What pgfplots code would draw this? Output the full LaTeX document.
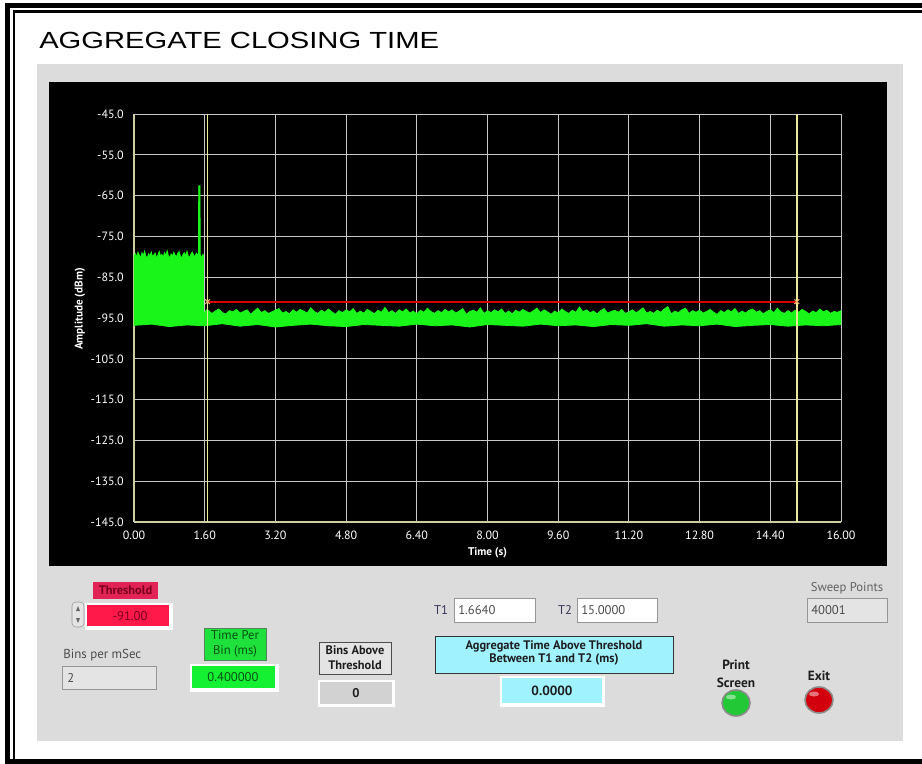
\documentclass[border=0pt]{standalone}
\usepackage{pgfplots}
\pgfplotsset{compat=1.18}
\usepackage{pgfplotstable}
\usepackage{graphicx}
\usepackage{fontspec}
\setmainfont{PT Sans}
\newfontfamily\arialfont{Liberation Sans}
\newcommand{\fs}[2]{\fontsize{#1}{#2}\selectfont}

\definecolor{panel}{RGB}{220,220,220}
\definecolor{trace}{RGB}{25,245,25}
\definecolor{gridc}{RGB}{200,200,200}
\definecolor{axisc}{RGB}{205,205,165}
\definecolor{cursorc}{RGB}{232,232,150}
\definecolor{thrline}{RGB}{225,40,40}
\definecolor{xmark}{RGB}{235,175,105}
\definecolor{thrlab}{RGB}{225,35,85}
\definecolor{thrbox}{RGB}{255,25,75}
\definecolor{thrtext}{RGB}{120,0,25}
\definecolor{grnlab}{RGB}{30,225,60}
\definecolor{grnbox}{RGB}{20,240,50}
\definecolor{grntext}{RGB}{10,80,20}
\definecolor{cyanbox}{RGB}{160,242,255}
\definecolor{labtext}{RGB}{60,50,90}
\definecolor{boxgrey}{RGB}{228,228,228}
\definecolor{boxgrey2}{RGB}{210,210,210}
\definecolor{boxedge}{RGB}{150,150,150}
\definecolor{darktext}{RGB}{30,30,30}

% outline of the green trace band: upper envelope left to right,
% then lower envelope right to left
\pgfplotstableread{
x y
0.00 -79.8
0.03 -79.2
0.06 -80.1
0.09 -78.9
0.12 -79.6
0.15 -80.3
0.18 -79.0
0.21 -79.7
0.24 -78.6
0.27 -79.9
0.30 -80.2
0.33 -79.3
0.36 -79.8
0.39 -78.8
0.42 -80.0
0.45 -79.5
0.48 -79.1
0.51 -80.4
0.54 -79.6
0.57 -78.7
0.60 -79.9
0.63 -79.4
0.66 -80.1
0.69 -79.0
0.72 -79.7
0.75 -78.5
0.78 -79.8
0.81 -80.2
0.84 -79.3
0.87 -79.9
0.90 -78.9
0.93 -79.6
0.96 -80.0
0.99 -79.2
1.02 -78.7
1.05 -79.8
1.08 -80.3
1.11 -79.4
1.14 -79.0
1.17 -79.7
1.20 -78.6
1.23 -79.9
1.26 -80.1
1.29 -79.3
1.32 -78.8
1.35 -79.6
1.38 -80.0
1.41 -79.1
1.44 -79.5
1.460 -79.3
1.464 -62.6
1.494 -62.6
1.498 -79.4
1.51 -79.7
1.53 -80.2
1.56 -79.4
1.572 -79.6
1.574 -93.6
1.60 -93.6
1.64 -93.0
1.68 -93.1
1.76 -93.9
1.84 -93.3
1.92 -92.8
2.00 -93.7
2.08 -94.0
2.16 -93.2
2.24 -93.5
2.32 -92.9
2.40 -93.8
2.48 -93.4
2.56 -93.0
2.64 -94.1
2.72 -93.3
2.80 -92.6
2.88 -93.7
2.96 -93.2
3.04 -93.9
3.12 -93.5
3.20 -93.1
3.28 -92.7
3.36 -93.8
3.44 -93.4
3.52 -94.0
3.60 -93.0
3.68 -93.6
3.76 -92.9
3.84 -93.3
3.92 -93.8
4.00 -92.5
4.08 -93.4
4.16 -93.9
4.24 -93.1
4.32 -93.6
4.40 -92.8
4.48 -93.5
4.56 -94.1
4.64 -93.2
4.72 -93.7
4.80 -93.0
4.88 -93.5
4.96 -92.7
5.04 -93.9
5.12 -93.3
5.20 -93.8
5.28 -92.9
5.36 -93.4
5.44 -94.0
5.52 -93.1
5.60 -93.6
5.68 -92.4
5.76 -93.7
5.84 -93.2
5.92 -93.9
6.00 -93.0
6.08 -93.5
6.16 -92.8
6.24 -93.8
6.32 -93.3
6.40 -94.0
6.48 -93.1
6.56 -93.6
6.64 -92.6
6.72 -93.4
6.80 -93.9
6.88 -93.2
6.96 -93.7
7.04 -92.9
7.12 -93.5
7.20 -93.0
7.28 -93.8
7.36 -93.3
7.44 -92.7
7.52 -94.1
7.60 -93.4
7.68 -93.1
7.76 -93.6
7.84 -92.5
7.92 -93.9
8.00 -93.2
8.08 -93.7
8.16 -93.0
8.24 -93.5
8.32 -92.8
8.40 -93.9
8.48 -93.3
8.56 -94.0
8.64 -93.1
8.72 -93.6
8.80 -92.9
8.88 -93.4
8.96 -93.8
9.04 -93.2
9.12 -92.6
9.20 -93.7
9.28 -93.0
9.36 -93.5
9.44 -94.1
9.52 -93.3
9.60 -93.8
9.68 -92.8
9.76 -93.4
9.84 -93.9
9.92 -93.1
10.00 -93.6
10.08 -92.3
10.16 -93.5
10.24 -93.0
10.32 -93.7
10.40 -93.3
10.48 -94.0
10.56 -93.2
10.64 -92.7
10.72 -93.8
10.80 -93.4
10.88 -93.1
10.96 -93.6
11.04 -92.9
11.12 -93.9
11.20 -93.5
11.28 -93.0
11.36 -93.7
11.44 -93.2
11.52 -92.5
11.60 -93.8
11.68 -93.4
11.76 -93.9
11.84 -93.1
11.92 -93.6
12.00 -92.8
12.08 -92.2
12.16 -94.0
12.24 -93.3
12.32 -93.7
12.40 -93.0
12.48 -92.6
12.56 -93.9
12.64 -93.2
12.72 -93.6
12.80 -93.1
12.88 -93.8
12.96 -93.4
13.04 -92.9
13.12 -93.6
13.20 -94.1
13.28 -93.2
13.36 -93.7
13.44 -93.0
13.52 -93.5
13.60 -92.7
13.68 -93.9
13.76 -93.3
13.84 -93.8
13.92 -93.1
14.00 -92.8
14.08 -93.6
14.16 -93.2
14.24 -94.0
14.32 -93.4
14.40 -93.0
14.48 -93.7
14.56 -92.6
14.64 -93.5
14.72 -93.9
14.80 -93.2
14.88 -93.8
14.96 -93.1
15.04 -93.6
15.12 -92.9
15.20 -93.4
15.28 -94.0
15.36 -93.3
15.44 -93.7
15.52 -92.8
15.60 -93.5
15.68 -93.1
15.76 -93.9
15.84 -93.4
15.92 -93.6
16.00 -93.2
16.0 -96.6
15.6 -96.9
15.2 -96.7
14.8 -97.0
14.4 -96.6
14.0 -96.8
13.6 -97.1
13.2 -96.5
12.8 -96.9
12.4 -96.7
12.0 -97.0
11.6 -96.4
11.2 -96.8
10.8 -96.6
10.4 -97.1
10.0 -96.7
9.6 -96.9
9.2 -96.5
8.8 -97.0
8.4 -96.8
8.0 -96.6
7.6 -97.2
7.2 -96.7
6.8 -96.9
6.4 -96.5
6.0 -97.0
5.6 -96.8
5.2 -96.6
4.8 -97.1
4.4 -96.9
4.0 -96.5
3.6 -96.8
3.2 -97.2
2.8 -96.6
2.4 -97.0
2.0 -96.4
1.6 -96.9
1.2 -96.7
0.8 -97.1
0.4 -96.5
0.0 -96.8
}\banddata

% threshold line between the cursors T1 and T2
\pgfplotstableread{
x y
1.664 -91
15.0 -91
}\thrdata

\begin{document}
\begin{tikzpicture}
\begin{scope}[x=0.75pt,y=-0.75pt]
  % page, frame, panels
  \fill[white] (0,0) rectangle (922,764);
  \fill[black] (5,3) rectangle (922,8);
  \fill[black] (5,3) rectangle (10,764);
  \fill[black] (13,10) rectangle (922,13);
  \fill[black] (13,10) rectangle (15,759);
  \fill[black] (5,759) rectangle (922,764);
  \fill[panel] (37,64) rectangle (903,741);
  \fill[black] (49,82) rectangle (887,566);
  % title
  \node[anchor=base west, inner sep=0pt, font=\arialfont\fs{17.5}{20}] at (39,48) {\scalebox{1.25}[1]{AGGREGATE CLOSING TIME}};

  % Threshold
  \fill[thrlab] (93,582) rectangle (158,599);
  \node[text=thrtext, font=\bfseries\fs{9.3}{11}] at (125.5,590.5) {Threshold};
  \fill[white] (85,603) rectangle (173,630);
  \fill[thrbox] (87,605) rectangle (169,626);
  \node[text=thrtext, font=\fs{9.5}{11}] at (130,616) {-91.00};
  \filldraw[fill=boxgrey, draw=boxedge, rounded corners=3pt] (72,602) rectangle (84,627);
  \fill[black!60] (76,611) -- (80,611) -- (78,606) -- cycle;
  \fill[black!60] (76,618) -- (80,618) -- (78,623) -- cycle;

  % Bins per mSec
  \node[anchor=west, inner sep=0pt, text=darktext!80, font=\fs{9.7}{11}] at (63,655) {Bins per mSec};
  \filldraw[fill=boxgrey, draw=boxedge] (62,666) rectangle (156,689);
  \node[anchor=west, inner sep=0pt, text=darktext!80, font=\fs{9.5}{11}] at (67,678) {2};

  % Time Per Bin
  \filldraw[fill=grnlab, draw=grntext!70] (204,628) rectangle (266,660);
  \node[align=center, text=grntext, font=\fs{9.5}{11}] at (235,644) {Time Per\\Bin (ms)};
  \fill[white] (190,664) rectangle (279,692);
  \fill[grnbox] (192,666) rectangle (275,688);
  \node[text=grntext, font=\fs{9.5}{11}] at (233,677) {0.400000};

  % Bins Above Threshold
  \filldraw[fill=boxgrey, draw=black!70] (319,642) rectangle (391,674);
  \node[align=center, text=darktext, font=\bfseries\fs{9.3}{11}] at (355,658) {Bins Above\\Threshold};
  \fill[white] (318,680) rectangle (395,707);
  \fill[boxgrey2] (320,682) rectangle (392,704);
  \node[text=darktext, font=\bfseries\fs{9.5}{11}] at (356,693) {0};

  % T1, T2
  \node[text=labtext, font=\fs{9.5}{11}] at (441,610) {T1};
  \filldraw[fill=white, draw=boxedge] (454,598) rectangle (535,622);
  \node[anchor=west, inner sep=0pt, text=darktext!80, font=\fs{9.5}{11}] at (458,610) {1.6640};
  \node[text=labtext, font=\fs{9.5}{11}] at (565,610) {T2};
  \filldraw[fill=white, draw=boxedge] (577,598) rectangle (657,622);
  \node[anchor=west, inner sep=0pt, text=darktext!80, font=\fs{9.5}{11}] at (581,610) {15.0000};

  % Sweep Points
  \node[text=darktext!70, font=\fs{9.5}{11}] at (847,588) {Sweep Points};
  \filldraw[fill=boxgrey, draw=boxedge] (807,598) rectangle (887,622);
  \node[anchor=west, inner sep=0pt, text=darktext!80, font=\fs{9.5}{11}] at (811,610) {40001};

  % Aggregate time
  \filldraw[fill=cyanbox, draw=black!80] (435,636) rectangle (673,673);
  \node[align=center, text=darktext, font=\bfseries\fs{9.3}{10}] at (554,653) {Aggregate Time Above Threshold\\Between T1 and T2 (ms)};
  \fill[white] (500,676) rectangle (605,707);
  \fill[cyanbox] (502,678) rectangle (602,703);
  \node[text=darktext, font=\bfseries\fs{10}{11}] at (552,691) {0.0000};

  % Print Screen / Exit
  \node[align=center, text=darktext, font=\bfseries\fs{10}{13.5}] at (736,674) {Print\\Screen};
  \filldraw[fill={rgb,255:red,35;green,200;blue,55}, draw=black!45, line width=1.2pt] (736,703) ellipse [x radius=14, y radius=13];
  \fill[white, opacity=0.45] (731,697) ellipse [x radius=5, y radius=2.5];
  \node[text=darktext, font=\bfseries\fs{10}{11}] at (819,676) {Exit};
  \filldraw[fill={rgb,255:red,210;green,0;blue,12}, draw=black!45, line width=1.2pt] (819,700) ellipse [x radius=14, y radius=13];
  \fill[white, opacity=0.45] (814,694) ellipse [x radius=5, y radius=2.5];
\end{scope}

\begin{axis}[
  at={(100.5pt,-85.5pt)}, anchor=north west,
  width=530.25pt, height=306pt, scale only axis,
  xmin=0, xmax=16, ymin=-145, ymax=-45,
  xtick={0,1.6,3.2,4.8,6.4,8,9.6,11.2,12.8,14.4,16},
  xticklabels={0.00,1.60,3.20,4.80,6.40,8.00,9.60,11.20,12.80,14.40,16.00},
  ytick={-145,-135,-125,-115,-105,-95,-85,-75,-65,-55,-45},
  yticklabels={-145.0,-135.0,-125.0,-115.0,-105.0,-95.0,-85.0,-75.0,-65.0,-55.0,-45.0},
  major tick length=0pt,
  grid=major,
  major grid style={draw=gridc, line width=0.75pt},
  axis x line*=bottom, axis y line*=left,
  axis line style={-, draw=axisc, line width=0.9pt},
  tick label style={text=white, font=\fs{9}{10}},
  xticklabel style={anchor=center, inner sep=0pt, yshift=-9.75pt},
  yticklabel style={anchor=east, inner sep=0pt, xshift=-7.5pt},
  xlabel={Time (s)},
  xlabel style={at={(axis description cs:0.5,-0.076)}, anchor=center, text=white, font=\bfseries\fs{8.4}{10}},
  ylabel={Amplitude (dBm)},
  ylabel style={at={(axis description cs:-0.0764,0.522)}, anchor=center, text=white, font=\bfseries\fs{8.4}{10}},
]
  \addplot[color=red!85!black, line width=1.3pt, sharp plot, no markers] table[x=x, y=y] {\thrdata};
  \addplot[fill=trace, draw=trace, line width=0.6pt] table[x=x, y=y] {\banddata} -- cycle;
  % cursors
  \addplot[draw=cursorc, line width=1.1pt, no markers] coordinates {(1.664,-145) (1.664,-45)};
  \addplot[draw=cursorc, line width=1.1pt, no markers] coordinates {(15.0,-145) (15.0,-45)};
  % threshold end marks
  \addplot[only marks, mark=x, mark size=2.5pt, mark options={draw=xmark, line width=0.8pt}] table[x=x, y=y] {\thrdata};
\end{axis}
\end{tikzpicture}
\end{document}
